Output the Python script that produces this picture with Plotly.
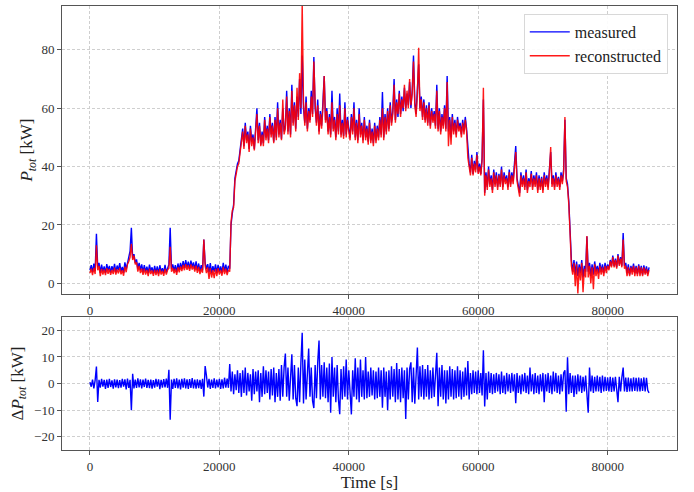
import numpy as np
import plotly.graph_objects as go
from plotly.subplots import make_subplots

# sampling step of the read-off series [s]
step_s = 200
x_tick_vals = [0, 20000, 40000, 60000, 80000]
y_top_ticks = [0, 20, 40, 60, 80]
y_bot_ticks = [-20, -10, 0, 10, 20]

# measured total power [kW]
measured = [
    # 0 .. 21400 s
    4.5, 6.2, 3.8, 6.8, 4.2, 17, 5.5, 7, 3.6, 6.4,
    4, 5.8, 3.5, 6.6, 4.4, 6, 3.7, 5.9, 4.1, 6.7,
    3.8, 6.1, 4.5, 6.9, 4, 5.6, 3.6, 7.2, 4.8, 7.5,
    9, 11, 19, 8.5, 10, 7, 8.2, 5, 7, 4.5,
    6.5, 3.8, 6.2, 4, 5.7, 3.5, 6.4, 4.1, 5.5, 3.4,
    6, 3.6, 5.8, 3.3, 6.2, 4, 5.2, 3.5, 6.3, 3.8,
    5.7, 6.5, 19, 5, 6.5, 4.3, 6.2, 3.8, 6.8, 4.6,
    7, 5, 7.6, 5.3, 8, 5.5, 7.4, 5, 7.8, 5.6,
    7.2, 4.8, 7.5, 4.5, 6.8, 4.2, 6.2, 4.5, 15, 7,
    5, 6.6, 3.8, 6.9, 3.5, 5.9, 4, 6.5, 3.6, 6.3,
    4, 5.8, 3.6, 7, 4.2, 6.4, 3.8, 6,
    # 21600 .. 23400 s
    5, 20, 24, 27, 36, 39, 41, 42, 46, 50,
    # 23600 .. 30000 s
    53, 47, 55, 49, 52, 46, 54, 48.5, 51, 46,
    53.5, 60, 49, 55, 47.5, 52, 48, 57, 50, 54,
    49, 58, 51, 55, 48.5, 57, 50, 62, 51, 56,
    49.5, 60, 52,
    # 30200 .. 40000 s
    54, 66, 52, 60, 51, 68, 55, 62, 53, 64,
    57, 70, 58, 78, 60, 55, 64, 53, 60, 56,
    66, 58, 77.5, 60, 55, 63, 52, 59, 54, 62,
    71, 56, 60, 52, 58, 51, 66, 53, 57, 50,
    60, 52, 65, 51, 56, 50.5, 62, 51, 57, 53,
    # 40200 .. 50000 s
    50, 58, 52, 62, 50, 56, 49, 60, 51, 55,
    49, 57, 50, 54, 48.5, 56, 49, 53, 48, 55,
    49, 54, 50, 57, 51, 65.5, 50, 58, 52, 60,
    53, 62, 55, 59, 70, 56, 63, 57, 66, 58,
    64, 59, 67, 60, 65, 61, 69, 60, 66, 78,
    # 50200 .. 58400 s
    62, 58, 66, 75, 60, 64, 57, 63, 56, 61,
    55, 62, 54, 60, 56, 59, 54, 68, 53, 60,
    52, 58, 54, 61, 53, 71, 52, 57, 50, 58,
    52, 56, 51, 57, 53, 55, 51, 56, 52, 57,
    53, 45,
    # 58600 .. 60600 s
    41, 38, 44, 37.5, 42, 39, 45, 38, 41, 37.5, 43,
    # 60800 s
    63,
    # 61000 .. 73400 s
    31, 38, 33, 40, 34, 37, 32, 39, 34, 38,
    33, 37.5, 34, 40, 33, 38, 35, 37, 33, 39,
    34, 38, 35, 41, 47, 36, 33, 31, 38, 34,
    37, 33, 39, 32, 36, 34, 38.5, 33, 37, 34,
    38, 32, 37, 33, 36.5, 32, 38, 34, 37, 33,
    39, 45, 34, 37, 33, 38, 34, 36.5, 33, 38,
    35, 39, 56,
    # 73600 .. 74600 s
    36, 34, 28, 18, 8, 4,
    # 74800 .. 86400 s
    8, 3, 7.5, 2.5, 6.5, 3.5, 8, 2, 6, 4,
    16, 4, 7, 2.5, 6.5, 3, 7.5, 4, 6, 3.5,
    7, 4, 6.5, 3.5, 7, 4.5, 6.5, 5, 8, 6,
    9.5, 6, 8.5, 5.5, 10, 6.5, 9, 6, 17.2, 6,
    7, 3.5, 6.5, 3, 6, 4, 6.8, 3.5, 6, 3.2,
    6.5, 3.5, 6, 3, 6.2, 3.5, 5.8, 3.2, 5.5,
]

# reconstructed total power [kW]
reconstructed = [
    # 0 .. 21400 s
    3.5, 5, 2.8, 5.3, 3.2, 13, 4.5, 6, 2.5, 5,
    3, 4.8, 2.8, 5.2, 3.3, 4.9, 2.9, 4.6, 3.2, 5.4,
    3, 4.8, 3.4, 5.3, 3.1, 4.5, 2.6, 5.7, 3.8, 6.6,
    7.5, 9, 13.5, 8, 9.5, 6.5, 7.2, 4, 6, 3.5,
    5, 2.9, 5, 3, 4.6, 2.5, 5, 3.2, 4.4, 2.6,
    4.7, 2.8, 4.6, 2.5, 4.9, 3, 4.3, 2.6, 5, 3,
    4.6, 5.2, 12.5, 4, 5.3, 3.4, 5, 2.9, 5.5, 3.8,
    5.8, 4.2, 6.3, 4.5, 6.6, 4.6, 6.2, 4.3, 6.5, 4.7,
    6, 4, 6.1, 3.6, 5.6, 3.2, 5, 3.6, 15, 6,
    3.5, 5.5, 1.5, 5.2, 2, 4.5, 1.8, 5, 2.5, 5.2,
    3, 4.6, 2.6, 5.6, 3.2, 5, 2.8, 4.6,
    # 21600 .. 23400 s
    4, 21, 25, 26, 35, 38, 40, 41, 45, 49,
    # 23600 .. 30000 s
    52, 46, 54, 48, 51, 45, 53, 47, 50, 45.5,
    52, 58, 48, 54, 47, 51, 47, 56, 49, 53,
    48, 57, 50, 54, 48, 56, 49, 60, 50, 55,
    49, 63, 51,
    # 30200 .. 40000 s
    53, 64, 51, 59, 50, 66, 54, 61, 52, 67,
    56, 72, 60, 96, 62, 54, 62, 52, 59, 55,
    64, 57, 76, 62, 54, 61, 51, 58, 53, 60,
    71, 55, 59, 51, 57, 50, 62, 52, 56, 49,
    58, 51, 61, 50, 55, 49.5, 60, 50, 56, 52,
    # 40200 .. 50000 s
    49, 57, 51, 60, 49, 55, 48, 58, 50, 54,
    48, 56, 49, 53, 47.5, 55, 48, 52, 47, 54,
    48, 53, 49, 56, 50, 60, 49, 57, 51, 59,
    52, 61, 54, 58, 68, 55, 62, 58, 65, 57,
    63, 60, 68, 59, 66, 60, 70, 61, 65, 76,
    # 50200 .. 58400 s
    61, 57, 65, 80.7, 59, 63, 56, 62, 55, 60,
    54, 61, 53, 59, 55, 58, 53, 66, 52, 59,
    51, 57, 53, 60, 52, 69, 47, 56, 47.5, 57,
    51, 55, 50, 56, 52, 54, 50, 55, 51, 56,
    52, 43,
    # 58600 .. 60600 s
    40, 37, 43, 37, 41, 38, 44, 37.5, 40, 37, 42,
    # 60800 s
    67,
    # 61000 .. 73400 s
    30, 37, 32, 39, 33, 36, 31, 38, 33, 37,
    32, 37, 33, 39, 32, 37, 34, 36, 32, 38,
    33, 37, 34, 40, 45, 35, 32, 29.7, 37, 33,
    36, 32, 38, 31, 35, 33, 37.5, 32, 36, 33,
    37, 31, 36, 32, 36, 31, 37, 33, 36, 32,
    38, 46.7, 33, 36, 32, 37, 33, 36, 32, 37,
    34, 38, 57,
    # 73600 .. 74600 s
    35, 33, 27, 17, 6, 3,
    # 74800 .. 86400 s
    7, -1, 6.5, -3.5, 5.5, 1, 7, -3, 5, 2,
    16.2, 2, 6, 0, 5.5, -2, 6.5, 2.5, 5, 1.5,
    6, 3, 5.5, 2.5, 6, 3.5, 6, 4.5, 7.5, 5.5,
    9, 5.5, 8, 5, 9.5, 6, 8.5, 5.5, 15, 5,
    6, 2.5, 5.5, 2.5, 5.5, 3, 6, 2.5, 5.5, 2.5,
    6, 2.5, 5.5, 2.5, 5.5, 3, 5, 2.5, 4.5,
]

# difference measured - reconstructed [kW]
delta = [
    # 0 .. 21400 s
    0.5, -1.2, 1.5, -1.8, 1.2, 6.4, -6.9, 1.4, -1.5, 1.8,
    -1.2, 1.4, -2, 1.5, -1.6, 1.8, -1.3, 1.2, -1.9, 1.6,
    -1.4, 1.5, -1.7, 1.3, -1.5, 1.8, -1.2, 1.6, -2.2, 1.9,
    -1.6, 1.4, -10, 3.7, -1.8, 1.5, -1.6, 2, -1.4, 1.6,
    -1.8, 1.5, -1.3, 1.9, -1.6, 1.4, -1.7, 1.5, -1.9, 1.3,
    -1.5, 1.8, -1.2, 1.6, -2.1, 1.4, -1.5, 1.7, -1.4, 1.9,
    -1.6, 5.2, -13.6, 1.5, -2, 1.8, -1.6, 2, -1.8, 1.5,
    -2.2, 1.8, -1.5, 2, -1.8, 1.6, -2, 1.7, -1.6, 2.1,
    -1.8, 1.5, -1.9, 1.6, -1.7, 1.4, -2, 1.8, -4.9, 6.6,
    3, -1.5, 1.8, -2, 1.5, -1.6, 2, -1.8, 1.5, -1.4,
    1.8, -2, 1.6, -1.8, 2.2, -1.5, 1.9, -1.6,
    # 21600 .. 23400 s
    7.3, -3, 4.5, -4, 3.5, -2.5, 5, -3.5, 4, -5,
    # 23600 .. 30000 s
    5, -3.5, 6, -4.5, 4, -3, 3.5, -6.5, 5.5, -4,
    4.5, -3, 5, -7, 4, -5, 6.5, -4, 5, -3.5,
    4.5, -6, 5.5, -4.5, 6, -7, 4, -5, 5.5, -6.5,
    7, -5, 6,
    # 30200 .. 40000 s
    11.3, -5, 6, -6.5, 5, 11, -6, 7, -5.5, -8.5,
    6, -7, 8, 19.1, -7.5, 9, -6, 7, 13.2, -5,
    6, -6.5, -9.2, 7, -5.5, 8, 16.2, -6, 7, -5,
    8, -5.5, 6, -7, 7.5, -11, 10, -5, 6, -7,
    7, -6, -11.5, 5.5, -6, 6.5, -5, 9, -6, 5,
    # 40200 .. 50000 s
    -6, -11.6, 5, -5, 9.5, -6, 6, -7, 9, -5,
    5, -6, 10, -5.5, 4.5, -5, 6, -4.5, 5, -6,
    4.5, -5.5, 6, -5, 5, -9.1, 6, -5, 4.5, -10,
    5, -6, 6.5, -5, 5.5, -7, 7.7, -6, 5.5, -7,
    6, -5.5, 5, -13.3, 6, -6, 5.5, 8, -7, 6,
    # 50200 .. 58400 s
    -7.6, 6, 13.6, -6, 6.5, -5, 7, -6, 5.5, -5,
    7, -6, 5, -5.5, 6, -5, 5.5, 11.6, -8.5, 6,
    -5, 7, -6, 5, -7.5, 5, -6, 6.5, -5, 5.5,
    -6, 5, -5.5, 6.5, -5, 5, -6, 4.5, -5, 6,
    -4.5, 8.5,
    # 58600 .. 60600 s
    -6, 4, -4, 5, -3.5, 4.5, -4, 5, -3.5, 4, -4.5,
    # 60800 s
    12.5,
    # 61000 .. 73400 s
    -8.6, 4, -6, 4.5, -3.5, 4, -4, 3.5, -3.5, 4,
    -3, 3.5, -4, 4.5, -3.5, 3, -4, 4, -3, 3.5,
    -3.5, 4, -3, 3.5, -7.4, 4, -3.5, 3, -4, 3.5,
    -3, 4, -3.5, 3, -4, 6, -3, 3.5, -4, 4,
    -3.5, 3, -4, 3.5, -3, 4, -7, 3.5, -3, 4,
    -3.5, 3, -4, 4.5, -3, 4, -3.5, 3, -4, 3.5,
    -3, 4, 5,
    # 73600 .. 74600 s
    -10.6, 9.9, -4, 4, -3.5, 3,
    # 74800 .. 86400 s
    -5, 3, -4, 3.5, -3, 3, -3.5, 2.5, -3, 3,
    -3, -11, 6, -3, 3, -3.5, 2.5, -3, 3, -3,
    2.5, -3.5, 3, -3, 2.5, -2.8, 2.3, -3, 2.5, -3.2,
    2.3, -3, 2.5, -3, -7, 2.5, -3, 2.3, 6, -3,
    2.3, -3.2, 2.3, -3, 2, -3, 2.3, -2.8, 2.2, -3,
    2.3, -3, 2, -2.8, 2.3, -3, 2.2, -2.5, -3.5,
]

n = len(measured)
assert len(reconstructed) == n and len(delta) == n, (n, len(reconstructed), len(delta))
time_s = np.arange(n) * step_s

FONT = "Liberation Serif"
GRID = "#cfcfcf"
AX = "#555555"

fig = make_subplots(rows=2, cols=1, shared_xaxes=False, vertical_spacing=0.05,
                    row_heights=[0.65, 0.35])

fig.add_trace(go.Scatter(x=time_s, y=measured, mode="lines", name="measured",
                         line=dict(color="#0000ff", width=1.4)), row=1, col=1)
fig.add_trace(go.Scatter(x=time_s, y=reconstructed, mode="lines", name="reconstructed",
                         line=dict(color="rgba(255,0,0,0.9)", width=1.4)), row=1, col=1)
fig.add_trace(go.Scatter(x=time_s, y=delta, mode="lines", name="delta", showlegend=False,
                         line=dict(color="#0000ff", width=1.4)), row=2, col=1)

axis_common = dict(showline=True, mirror=True, linecolor=AX, linewidth=1,
                   ticks="outside", ticklen=4, tickcolor=AX,
                   showgrid=True, gridcolor=GRID, griddash="3px,2px", gridwidth=1,
                   zeroline=False, tickfont=dict(family=FONT, size=13, color="#333"))

fig.update_xaxes(**axis_common, range=[-4320, 90720], tickvals=x_tick_vals,
                 ticktext=[str(v) for v in x_tick_vals])
fig.update_xaxes(domain=[0, 1], row=1, col=1)
fig.update_xaxes(title=dict(text="Time [s]", font=dict(family=FONT, size=17, color="#222"),
                            standoff=2), row=2, col=1)
fig.update_yaxes(**axis_common)
fig.update_yaxes(range=[-3.7, 95], tickvals=y_top_ticks, domain=[0.351, 1.0],
                 title=dict(text="<i>P</i><sub><i>tot</i></sub> [kW]",
                            font=dict(family=FONT, size=17, color="#222"), standoff=4),
                 row=1, col=1)
fig.update_yaxes(range=[-25, 25], tickvals=y_bot_ticks, domain=[0.0, 0.2993],
                 ticktext=["\u221220", "\u221210", "0", "10", "20"],
                 title=dict(text="\u0394<i>P</i><sub><i>tot</i></sub> [kW]",
                            font=dict(family=FONT, size=17, color="#222"), standoff=6),
                 row=2, col=1)

fig.update_layout(
    width=694, height=492,
    margin=dict(l=62, r=17, t=5, b=37),
    paper_bgcolor="white", plot_bgcolor="white",
    font=dict(family=FONT, size=13, color="#222"),
    legend=dict(x=0.985, y=0.982, xanchor="right", yanchor="top",
                bgcolor="rgba(255,255,255,0.9)", bordercolor="#d8d8d8", borderwidth=1,
                font=dict(family=FONT, size=16, color="#222"),
                itemwidth=40, tracegroupgap=2),
)

fig.write_html("out.html")
